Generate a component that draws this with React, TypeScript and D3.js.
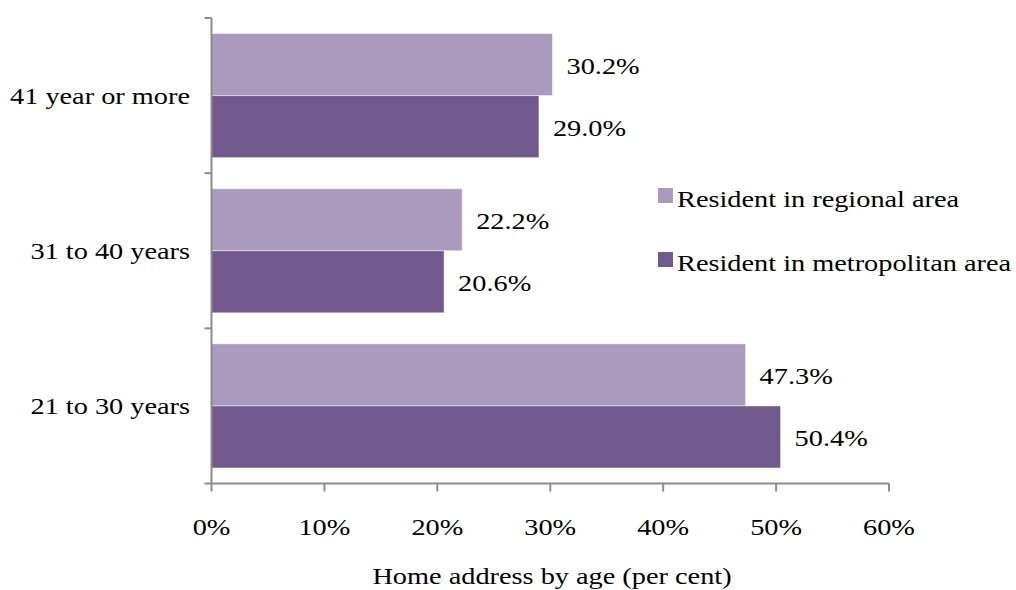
import React from "react";
import * as d3 from "d3";

const categories = ["41 year or more", "31 to 40 years", "21 to 30 years"];
const seriesNames = ["Resident in regional area", "Resident in metropolitan area"];
const regional = [30.2, 22.2, 47.3];
const metropolitan = [29.0, 20.6, 50.4];
const xTicks = [0, 10, 20, 30, 40, 50, 60];
const colors = ["#A99ABE", "#71598E"];

const SX = 1.18;
const FS = 24;

function Txt({ x, y, anchor = "start", children }: { x: number; y: number; anchor?: string; children: React.ReactNode }) {
  return (
    <text transform={`translate(${x},${y}) scale(${SX},1)`} textAnchor={anchor} fontSize={FS} fill="#000">
      {children}
    </text>
  );
}

export default function App() {
  const W = 1016, H = 590;
  const left = 211.5, right = 889, top = 18, bottom = 483.5;
  const x = d3.scaleLinear().domain([0, 60]).range([left, right]);
  const y = d3.scaleBand().domain(categories).range([top, bottom]).paddingInner(0.2).paddingOuter(0.1);
  const band = d3.scaleBand().domain(categories).range([top, bottom]);
  const sub = d3.scaleBand().domain(seriesNames).range([0, y.bandwidth()]);
  const series = [regional, metropolitan];
  const font = "'Liberation Serif', 'Times New Roman', serif";
  const axisColor = "#8c8c8c";
  const yTickPos = [top, ...categories.map((c) => (band(c) as number) + band.bandwidth())];
  return (
    <svg width={W} height={H} style={{ position: "absolute", left: 0, top: 0, background: "#fff" }} fontFamily={font}>
      {categories.map((c, i) =>
        series.map((s, k) => (
          <g key={c + k}>
            <rect
              x={x(0)}
              y={(y(c) as number) + (sub(seriesNames[k]) as number)}
              width={x(s[i]) - x(0)}
              height={sub.bandwidth()}
              fill={colors[k]}
              stroke="#ffffff"
              strokeOpacity={0.5}
              strokeWidth={1}
            />
            <Txt x={x(s[i]) + 14} y={(y(c) as number) + (sub(seriesNames[k]) as number) + sub.bandwidth() / 2 + 9.5}>
              {s[i].toFixed(1)}%
            </Txt>
          </g>
        ))
      )}
      <line x1={left} x2={left} y1={top} y2={bottom} stroke={axisColor} strokeWidth={2} />
      {yTickPos.map((p, i) => (
        <line key={i} x1={left - 7} x2={left} y1={p} y2={p} stroke={axisColor} strokeWidth={2} />
      ))}
      {categories.map((c) => (
        <Txt key={c} x={190} y={(band(c) as number) + band.bandwidth() / 2 + 8} anchor="end">
          {c}
        </Txt>
      ))}
      <line x1={left} x2={right} y1={bottom} y2={bottom} stroke={axisColor} strokeWidth={2} />
      {xTicks.map((t) => (
        <g key={t}>
          <line x1={x(t)} x2={x(t)} y1={bottom} y2={bottom + 8} stroke={axisColor} strokeWidth={2} />
          <Txt x={x(t)} y={535} anchor="middle">
            {t}%
          </Txt>
        </g>
      ))}
      <Txt x={552} y={584} anchor="middle">
        Home address by age (per cent)
      </Txt>
      {seriesNames.map((n, k) => (
        <g key={n}>
          <rect x={658} y={188 + k * 64} width={15} height={15} fill={colors[k]} />
          <Txt x={677} y={206.5 + k * 64}>
            {n}
          </Txt>
        </g>
      ))}
    </svg>
  );
}
